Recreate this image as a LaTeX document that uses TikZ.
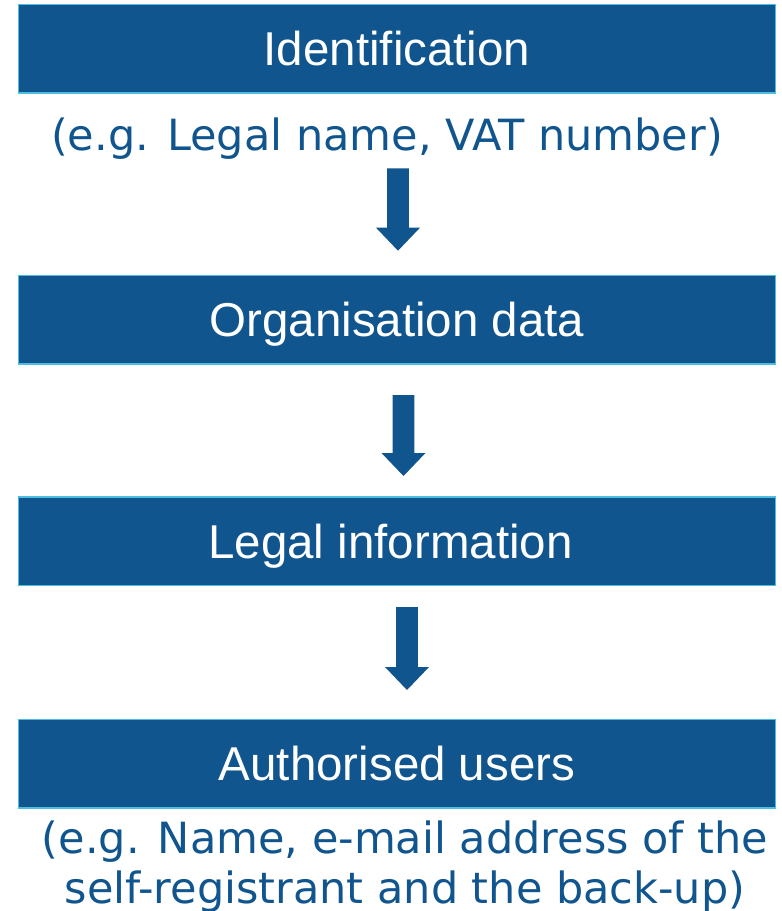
\documentclass[tikz,border=0pt]{standalone}
\usepackage{fontspec}
\setmainfont{Liberation Sans}
\newfontfamily\notefont{DejaVu Sans}
\usetikzlibrary{calc}
\definecolor{mainblue}{HTML}{11558F}
\definecolor{edgecyan}{HTML}{4DBDE0}
\newcommand\flowarrow[2]{%
  \fill[arrowfill] ($(#1)+(-10.8,0)$) -- ($(#1)+(10.8,0)$) -- ($(#2)+(10.8,-23)$)
    -- ($(#2)+(22,-23)$) -- (#2) -- ($(#2)+(-22,-23)$) -- ($(#2)+(-10.8,-23)$) -- cycle;}
\begin{document}
\begin{tikzpicture}[x=1pt,y=-1pt,
  stepbox/.style={draw=edgecyan, line width=1.5pt, fill=mainblue, text=white,
    minimum width=757pt, minimum height=88.5pt, inner sep=0pt,
    text height=34pt, text depth=0pt,
    font=\fontsize{47.5}{57}\selectfont},
  note/.style={text=mainblue, font=\notefont\fontsize{43}{50}\selectfont,
    anchor=base, inner sep=0pt, align=center},
  arrowfill/.style={fill=mainblue}]
\useasboundingbox (0,0) rectangle (782,911);
\node[stepbox] (b1) at (397,48.5) {Identification};
\node[note] (n1) at (387,150) {(e.g. Legal name, VAT number)};
\node[stepbox] (b2) at (397,319.7) {Organisation data};
\node[stepbox] (b3) at (397,541) {\hspace*{-13pt}Legal information};
\node[stepbox] (b4) at (397,763.5) {Authorised users};
\node[note] (n4) at (405,903) {(e.g. Name, e-mail address of the\\self-registrant and the back-up)};
\coordinate (a1s) at (398,168.3);
\coordinate (a1e) at (398,250.7);
\coordinate (a2s) at (403.5,395);
\coordinate (a2e) at (403.5,476);
\coordinate (a3s) at (407,607);
\coordinate (a3e) at (407,690);
\flowarrow{a1s}{a1e}
\flowarrow{a2s}{a2e}
\flowarrow{a3s}{a3e}
\end{tikzpicture}
\end{document}
